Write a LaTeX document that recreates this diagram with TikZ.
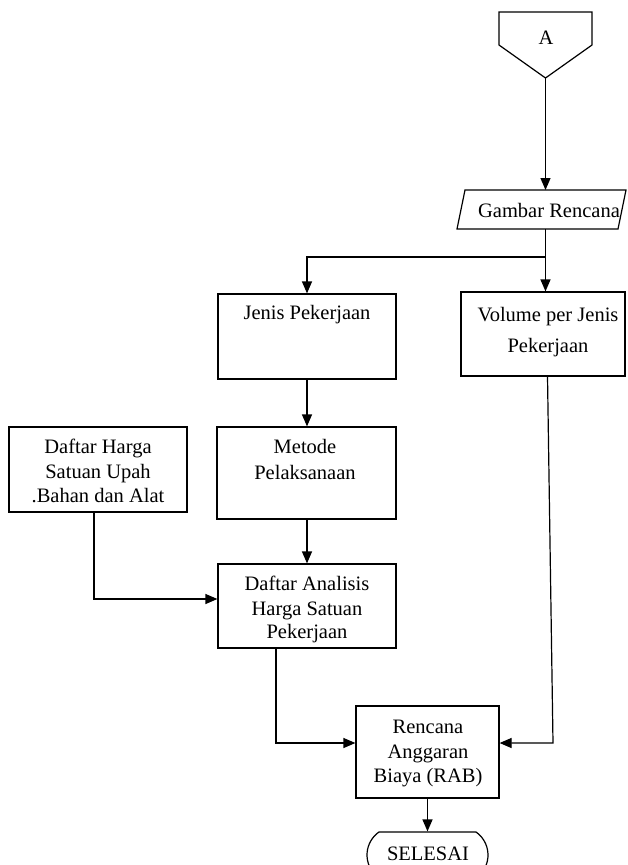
\documentclass[tikz,border=0pt]{standalone}
\usepackage{fontspec}
\setmainfont{Liberation Serif}
\usetikzlibrary{arrows.meta,shapes.misc}
\begin{document}
\begin{tikzpicture}[x=1pt,y=-1pt, line width=1.2pt,
  box/.style={draw, rectangle, inner sep=0pt},
  txt/.style={anchor=base, inner sep=0pt, font=\fontsize{20.5}{25}\selectfont},
  arr/.style={-{Triangle[length=12pt,width=10pt]}},
  conn/.style={line width=1.2pt}
]
\clip (0,0) rectangle (627,865);
\fill[white] (0,0) rectangle (627,865);

% off-page connector A
\coordinate (a1) at (499,12);
\coordinate (a2) at (592,12);
\coordinate (a3) at (592,45);
\coordinate (atip) at (545.5,78);
\coordinate (a5) at (499,45);
\draw[line join=miter] (a1) -- (a2) -- (a3) -- (atip) -- (a5) -- cycle;
\node[txt] (tA) at (546,44) {A};

% Gambar Rencana (input parallelogram)
\coordinate (g1) at (465,190);
\coordinate (g2) at (626,190);
\coordinate (g3) at (618,229);
\coordinate (g4) at (457,229);
\draw (g1) -- (g2) -- (g3) -- (g4) -- cycle;
\coordinate (gtop) at (545.5,190);
\coordinate (gbot) at (545.5,229);
\coordinate (split) at (545.5,257);
\node[txt] (tG) at (549,217) {Gambar Rencana};

% boxes
\node[box, minimum width=178pt, minimum height=85pt] (jenis) at (307,336.5) {};
\node[box, minimum width=164pt, minimum height=84pt] (volume) at (543,334) {};
\node[box, minimum width=179pt, minimum height=92pt] (metode) at (306.5,473) {};
\node[box, minimum width=178pt, minimum height=85pt] (harga) at (98,469.5) {};
\node[box, minimum width=178pt, minimum height=84pt] (analisis) at (307,606) {};
\node[box, minimum width=143pt, minimum height=92pt] (rab) at (427.5,752) {};
\node[draw, rounded rectangle, rounded rectangle arc length=110, minimum width=121pt,
      minimum height=46pt, inner sep=0pt] (selesai) at (427.5,855) {};

% texts
\node[txt] (t1) at (307,319) {Jenis Pekerjaan};
\node[txt] (t2) at (548,321) {Volume per Jenis};
\node[txt] (t3) at (548,352) {Pekerjaan};
\node[txt] (t4) at (305,453) {Metode};
\node[txt] (t5) at (305,479) {Pelaksanaan};
\node[txt] (t6) at (98,453) {Daftar Harga};
\node[txt] (t7) at (98,478) {Satuan Upah};
\node[txt] (t8) at (98,502) {.Bahan dan Alat};
\node[txt] (t9) at (307,590) {Daftar Analisis};
\node[txt] (t10) at (307,615) {Harga Satuan};
\node[txt] (t11) at (307,638) {Pekerjaan};
\node[txt] (t12) at (428,733) {Rencana};
\node[txt] (t13) at (428,758) {Anggaran};
\node[txt] (t14) at (428,782) {Biaya (RAB)};
\node[txt] (t15) at (428,860) {SELESAI};

% connectors
\draw[arr] (atip) -- (gtop);
\draw[arr] (gbot) -- (split) -- (volume.north -| split);
\draw[arr] (split) -- (307,257) -- (jenis.north);
\draw[arr] (jenis.south) -- (metode.north -| jenis.south);
\draw[arr] (metode.south -| jenis.south) -- (analisis.north);
\coordinate (hb) at (94,512);
\draw[arr] (hb) -- (94,599) -- (analisis.west |- 0,599);
\coordinate (ab) at (276,648);
\draw[arr] (ab) -- (276,743) -- (rab.west |- 0,743);
\coordinate (vb) at (547.5,376);
\coordinate (vc) at (553,743);
\draw[arr] (vb) -- (vc) -- (rab.east |- vc);
\draw[arr] (rab.south) -- (selesai.north);
\end{tikzpicture}
\end{document}
